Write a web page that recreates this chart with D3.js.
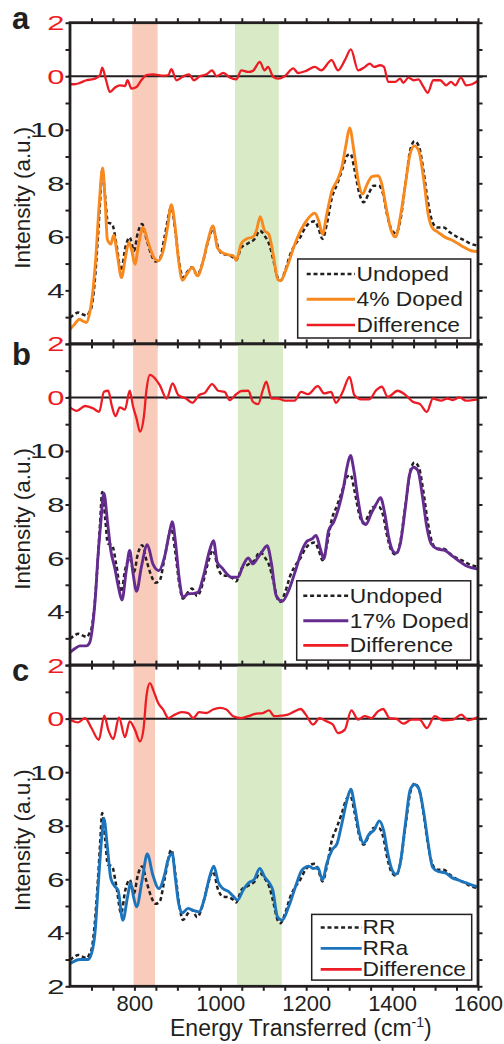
<!DOCTYPE html>
<html>
<head>
<meta charset="utf-8">
<script src="https://cdn.jsdelivr.net/npm/d3@7"></script>
<style>
  html, body { margin: 0; padding: 0; background: #fff; }
  svg { display: block; font-family: 'Liberation Sans', Arial, sans-serif; }
</style>
</head>
<body>
<div id="chart"></div>
<script>
// ---- data ----
const xTicks = d3.range(700, 1601, 50);
const xLabels = [800, 1000, 1200, 1400, 1600];
const panelLetters = ['a', 'b', 'c'];
const legendLabels = [
  ['Undoped', '4% Doped', 'Difference'],
  ['Undoped', '17% Doped', 'Difference'],
  ['RR', 'RRa', 'Difference']
];
const pinkBands = [[795, 854], [797, 854], [798, 848]];
const greenBands = [[1034, 1136], [1041, 1146], [1039, 1143]];

// reference spectrum (dashed, same in all panels)
const undoped = [[650,2.98],[660,3.1],[669,3.17],[680,3.1],[689,3.05],[696,3.22],[700,3.36],[707,4.23],[715,5.98],[720,7.3],[725,8.47],[732,7.47],[738,6.54],[748,6.48],[758,5.73],[769,4.73],[779,5.61],[789,5.98],[799,5.48],[808,6.16],[818,6.48],[828,5.92],[839,5.35],[849,5.08],[859,5.17],[870,5.98],[886,7.1],[895,6.23],[905,4.98],[913,4.48],[925,4.73],[934,4.86],[946,4.58],[960,5.1],[971,5.8],[983,6.29],[995,5.6],[1006,5.35],[1018,5.33],[1030,5.23],[1037,5.13],[1049,5.6],[1064,5.75],[1080,5.92],[1092,6.23],[1103,6.04],[1115,5.67],[1123,5.17],[1134,4.45],[1140,4.36],[1151,4.73],[1163,5.35],[1175,5.73],[1186,5.98],[1198,6.35],[1210,6.54],[1220,6.58],[1229,6.29],[1238,5.92],[1248,6.48],[1260,7.47],[1272,7.97],[1283,8.47],[1295,9.03],[1303,9.1],[1313,8.47],[1324,7.6],[1334,7.29],[1345,7.6],[1357,7.91],[1369,7.91],[1379,7.6],[1388,6.85],[1400,6.23],[1409,6.13],[1419,6.6],[1431,7.97],[1442,9.22],[1452,9.57],[1462,9.4],[1473,8.47],[1483,7.35],[1493,6.6],[1504,6.35],[1520,6.35],[1535,6.16],[1551,6.0],[1567,5.88],[1582,5.75],[1600,5.67]];

const doped4 = [[650,2.55],[660,2.72],[672,2.92],[680,2.85],[688,2.8],[695,3.1],[702,3.8],[710,5.2],[718,7.2],[726,8.57],[732,7.3],[737,5.9],[745,5.73],[752,6.06],[760,5.35],[770,4.48],[779,5.23],[787,5.79],[794,5.48],[801,4.98],[810,5.73],[820,6.35],[832,5.79],[846,5.2],[855,5.1],[867,5.48],[877,6.35],[886,7.2],[894,6.48],[902,5.23],[912,4.38],[923,4.63],[935,4.86],[947,4.54],[960,5.1],[971,5.85],[983,6.41],[993,5.6],[1004,5.42],[1018,5.33],[1030,5.29],[1037,5.13],[1049,5.75],[1061,5.92],[1076,6.0],[1084,6.23],[1093,6.75],[1103,6.23],[1113,6.1],[1123,5.35],[1134,4.4],[1140,4.36],[1155,4.86],[1175,5.79],[1198,6.54],[1220,6.88],[1229,6.6],[1238,6.1],[1248,6.85],[1260,7.72],[1272,8.1],[1283,8.6],[1293,9.47],[1301,10.07],[1311,9.22],[1321,8.1],[1331,7.6],[1342,7.97],[1353,8.25],[1367,8.28],[1376,7.97],[1386,7.1],[1398,6.23],[1408,6.0],[1419,6.73],[1431,7.97],[1442,9.1],[1452,9.4],[1462,9.22],[1474,8.1],[1484,6.85],[1493,6.35],[1508,6.16],[1524,5.98],[1539,5.88],[1555,5.73],[1569,5.6],[1584,5.48],[1600,5.45]];

const diff4 = [[650,-0.3],[660,-0.3],[673,-0.25],[688,-0.15],[700,-0.12],[708,-0.09],[720,0.04],[725,0.32],[734,-0.15],[743,-0.59],[755,-0.42],[766,-0.34],[778,-0.37],[784,-0.15],[793,-0.46],[805,-0.4],[816,-0.15],[828,0.04],[844,0.07],[867,0.02],[879,0.04],[886,0.26],[898,-0.15],[912,-0.02],[927,0.07],[939,-0.15],[952,0],[968,0.07],[981,0.22],[991,0],[1007,0.12],[1022,-0.05],[1037,-0.12],[1049,0.22],[1065,0.16],[1076,0.2],[1092,0.54],[1103,0.22],[1111,0.35],[1123,-0.02],[1134,-0.09],[1150,0],[1170,0.29],[1181,0.12],[1200,0.2],[1220,0.35],[1235,0.22],[1259,0.6],[1274,0.22],[1290,0.6],[1304,1.0],[1321,0.22],[1337,0.35],[1348,0.47],[1358,0.35],[1372,0.41],[1381,0.35],[1391,-0.21],[1407,-0.21],[1419,-0.09],[1426,-0.25],[1438,-0.05],[1450,-0.15],[1461,-0.12],[1473,-0.4],[1483,-0.62],[1496,-0.15],[1512,-0.15],[1526,-0.34],[1537,-0.21],[1547,-0.34],[1560,-0.05],[1573,-0.34],[1586,-0.3],[1600,-0.17]];

const doped17 = [[650,2.47],[660,2.6],[673,2.72],[688,2.72],[696,2.85],[703,3.5],[709,4.53],[715,6.03],[721,7.2],[729,8.42],[737,7.4],[745,6.28],[754,5.65],[763,4.9],[771,4.43],[781,5.53],[789,6.28],[797,5.4],[805,4.76],[816,5.65],[830,6.5],[843,5.78],[857,5.53],[870,6.03],[881,6.9],[888,7.36],[896,6.53],[904,5.28],[913,4.53],[925,4.66],[939,4.68],[948,4.72],[960,5.28],[975,6.28],[984,6.65],[993,5.84],[1004,5.63],[1014,5.43],[1026,5.28],[1041,5.28],[1053,5.72],[1065,6.0],[1076,5.78],[1088,6.03],[1099,6.28],[1109,6.46],[1119,5.8],[1130,4.6],[1144,4.38],[1159,4.78],[1175,5.53],[1190,6.28],[1202,6.63],[1213,6.71],[1223,6.84],[1233,6.34],[1241,5.97],[1252,7.02],[1264,7.34],[1276,7.9],[1287,8.65],[1295,9.39],[1303,9.83],[1311,9.27],[1321,8.15],[1330,7.4],[1339,7.25],[1351,7.65],[1363,8.02],[1373,8.25],[1383,7.65],[1392,6.78],[1401,6.28],[1409,6.18],[1419,6.53],[1431,7.9],[1441,9.14],[1450,9.39],[1460,9.27],[1471,8.27],[1481,7.15],[1491,6.53],[1505,6.34],[1524,6.28],[1539,6.09],[1555,5.9],[1571,5.72],[1586,5.63],[1600,5.59]];

const diff17 = [[650,-0.37],[666,-0.5],[685,-0.32],[704,-0.41],[718,-0.54],[729,0.21],[739,0.25],[747,-0.29],[756,-0.7],[766,-0.37],[778,-0.45],[789,0.25],[797,-0.35],[805,-0.79],[813,-1.28],[822,-0.72],[828,0.27],[836,0.84],[848,0.71],[859,0.46],[875,-0.04],[889,0.52],[902,0.09],[920,-0.04],[935,-0.2],[951,0.09],[964,0.17],[981,0.5],[995,0.25],[1010,0.21],[1022,-0.1],[1037,0.12],[1049,0.24],[1065,0.25],[1076,-0.16],[1088,-0.25],[1099,0.27],[1107,0.59],[1119,-0.04],[1134,-0.04],[1150,-0.12],[1173,-0.12],[1188,0.21],[1204,0.12],[1227,0.42],[1242,0.15],[1258,0.21],[1269,-0.2],[1285,0.21],[1301,0.77],[1312,0.09],[1328,-0.07],[1347,-0.07],[1363,0.27],[1376,0.4],[1390,0.02],[1413,0.25],[1429,0.12],[1448,-0.16],[1465,-0.25],[1481,-0.54],[1495,-0.04],[1514,-0.12],[1529,-0.04],[1541,-0.1],[1557,0],[1572,-0.12],[1600,-0.07]];

const rra = [[650,2.85],[673,3.0],[692,3.0],[700,3.22],[708,3.97],[716,5.84],[724,7.59],[729,8.27],[737,7.21],[745,6.03],[754,5.74],[762,5.59],[773,4.47],[784,5.34],[791,5.87],[798,5.34],[805,4.97],[818,5.97],[830,6.94],[843,6.15],[857,5.65],[870,6.15],[878,6.71],[888,6.96],[895,6.09],[903,5.09],[911,4.74],[925,4.91],[936,4.84],[950,4.78],[964,5.34],[975,6.09],[985,6.49],[995,5.9],[1006,5.65],[1020,5.53],[1030,5.37],[1040,5.22],[1053,5.59],[1066,5.87],[1078,5.97],[1092,6.4],[1103,6.09],[1115,5.84],[1122,5.6],[1133,4.6],[1144,4.47],[1159,4.97],[1175,5.72],[1190,6.34],[1206,6.49],[1217,6.4],[1227,6.44],[1238,5.97],[1248,6.59],[1260,7.09],[1272,7.34],[1283,8.08],[1295,8.96],[1304,9.36],[1313,8.71],[1324,7.71],[1334,7.34],[1345,7.65],[1359,7.86],[1370,8.18],[1380,7.84],[1390,6.96],[1400,6.34],[1409,6.18],[1419,6.59],[1431,8.08],[1442,9.33],[1452,9.54],[1462,9.39],[1474,8.46],[1484,7.34],[1494,6.46],[1508,6.28],[1524,6.24],[1539,6.06],[1555,5.97],[1571,5.87],[1586,5.78],[1600,5.72]];

const diffRR = [[650,-0.04],[669,-0.14],[685,0.02],[700,-0.35],[717,-0.79],[730,0.11],[739,-0.41],[751,-0.76],[764,0.05],[778,-0.69],[789,-0.1],[801,-0.41],[813,-0.85],[821,-0.41],[828,0.84],[836,1.33],[845,1.02],[855,0.59],[867,0.34],[879,0.02],[894,0.15],[910,0.24],[925,0.21],[937,0.02],[951,0.24],[968,0.21],[983,0.34],[999,0.4],[1014,0.34],[1030,0.09],[1049,0.02],[1065,0.09],[1084,0.19],[1099,0.21],[1113,0.31],[1126,0.09],[1142,0.11],[1157,0.15],[1173,0.27],[1187,0.36],[1199,0.15],[1216,-0.22],[1231,0.02],[1247,-0.1],[1262,-0.22],[1274,-0.54],[1290,-0.41],[1305,0.31],[1321,-0.04],[1336,0.09],[1352,0.02],[1367,0.27],[1379,0.36],[1394,0.02],[1410,-0.01],[1426,-0.19],[1445,-0.04],[1464,-0.04],[1481,-0.35],[1499,0.09],[1519,-0.06],[1542,-0.04],[1561,0.15],[1577,-0.06],[1600,0.06]];

const samples = [doped4, doped17, rra];
const diffs = [diff4, diff17, diffRR];

// ---- layout ----
const width = 504, height = 1044;
const left = 70, right = 478;
const panelTops = [22.7, 343.9, 665.1];
const panelH = 321.2;
const sampleColors = ['#f7891f', '#652c90', '#1c75bc'];
const red = '#ed1c24', ink = '#231f20';
const pink = '#f9cbbb', green = '#d9ebc6';
const dash = '4,2.8';
const legendBoxes = [
  {x0: 297.7, x1: 470.7, y0: 236.3, y1: 315.3, rows: [251.3, 276.6, 302.3], l0: 306.7, l1: 355, tx: 356.5},
  {x0: 296.7, x1: 470.7, y0: 236.9, y1: 316.2, rows: [251.9, 276.9, 301.4], l0: 303.3, l1: 348.3, tx: 349.8},
  {x0: 311.7, x1: 471.7, y0: 249.3, y1: 315.0, rows: [262.3, 283.3, 304.3], l0: 320.7, l1: 361.7, tx: 362.5}
];
const labelScale = 1.55;   // y tick digits are drawn wide in the figure
const legendScale = 1.14;

const svg = d3.select('#chart').append('svg')
  .attr('width', width)
  .attr('height', height);

const x = d3.scaleLinear().domain([650, 1600]).range([left, right]);

panelTops.forEach((top, i) => {
  const bottom = top + panelH;
  const y = d3.scaleLinear().domain([2, 14]).range([bottom, top]);
  const yDiff = d3.scaleLinear().domain([-10, 2]).range([bottom, top]);
  const g = svg.append('g');

  // shaded regions
  [[pinkBands[i], pink], [greenBands[i], green]].forEach(([b, c]) => {
    g.append('rect')
      .attr('x', x(b[0])).attr('width', x(b[1]) - x(b[0]))
      .attr('y', top).attr('height', panelH)
      .attr('fill', c);
  });

  // zero line of the difference trace
  g.append('line')
    .attr('x1', left - 2).attr('x2', right + 9)
    .attr('y1', yDiff(0)).attr('y2', yDiff(0))
    .attr('stroke', ink).attr('stroke-width', 2);

  const line = sc => d3.line()
    .x(d => x(d[0]))
    .y(d => sc(d[1]))
    .curve(d3.curveMonotoneX);

  g.append('path').datum(diffs[i])
    .attr('fill', 'none').attr('stroke', red).attr('stroke-width', 2.3)
    .attr('stroke-linejoin', 'round')
    .attr('d', line(yDiff));

  g.append('path').datum(undoped)
    .attr('fill', 'none').attr('stroke', ink).attr('stroke-width', 2.5)
    .attr('stroke-dasharray', dash)
    .attr('d', line(y));

  g.append('path').datum(samples[i])
    .attr('fill', 'none').attr('stroke', sampleColors[i]).attr('stroke-width', 2.9)
    .attr('stroke-linejoin', 'round')
    .attr('d', line(y));

  // tick marks on all four sides
  const tickY = d3.range(2, 15);
  const axes = [
    [d3.axisLeft(y).tickValues(tickY), `translate(${left},0)`],
    [d3.axisRight(y).tickValues(tickY), `translate(${right},0)`],
    [d3.axisTop(x).tickValues(xTicks), `translate(0,${top})`],
    [d3.axisBottom(x).tickValues(xTicks), `translate(0,${bottom})`]
  ];
  axes.forEach(([ax, tr]) => {
    g.append('g')
      .attr('transform', tr)
      .call(ax.tickSize(4.5).tickFormat(''))
      .call(a => a.select('.domain').remove())
      .call(a => a.selectAll('.tick line').attr('stroke', ink).attr('stroke-width', 2));
  });

  // frame
  g.append('rect')
    .attr('x', left).attr('y', top)
    .attr('width', right - left).attr('height', panelH)
    .attr('fill', 'none').attr('stroke', ink).attr('stroke-width', 2.8);

  // y tick labels: black intensity, red difference
  const labelAxis = (scale, vals, color) => {
    g.append('g')
      .attr('transform', `translate(${left},0)`)
      .call(d3.axisLeft(scale).tickValues(vals).tickSize(0).tickFormat(d3.format('d')))
      .call(a => a.select('.domain').remove())
      .call(a => a.selectAll('text')
        .attr('font-family', null)
        .attr('font-size', 20)
        .attr('fill', color)
        .attr('x', -5.5 / labelScale)
        .attr('dy', '0.35em')
        .attr('transform', `scale(${labelScale},1)`));
  };
  labelAxis(y, i === panelTops.length - 1 ? [2, 4, 6, 8, 10] : [4, 6, 8, 10], ink);
  labelAxis(yDiff, [0, 2], red);

  // axis title
  g.append('text')
    .attr('transform', `translate(29.5,${top + 175}) rotate(-90)`)
    .attr('text-anchor', 'middle')
    .attr('font-size', 22.4)
    .attr('fill', ink)
    .text('Intensity (a.u.)');

  // panel letter
  g.append('text')
    .attr('x', 12).attr('y', [28.5, 365, 681][i])
    .attr('font-size', 31).attr('font-weight', 'bold')
    .attr('fill', ink)
    .text(panelLetters[i]);

  // legend
  const lb = legendBoxes[i];
  const lg = g.append('g').attr('transform', `translate(0,${top})`);
  lg.append('rect')
    .attr('x', lb.x0).attr('y', lb.y0)
    .attr('width', lb.x1 - lb.x0).attr('height', lb.y1 - lb.y0)
    .attr('fill', '#fff').attr('stroke', ink).attr('stroke-width', 1.5);
  const styles = [
    {c: ink, w: 2.5, dash: dash},
    {c: sampleColors[i], w: 2.9, dash: null},
    {c: red, w: 2.7, dash: null}
  ];
  legendLabels[i].forEach((lab, k) => {
    const ry = lb.rows[k];
    lg.append('line')
      .attr('x1', lb.l0).attr('x2', lb.l1)
      .attr('y1', ry).attr('y2', ry)
      .attr('stroke', styles[k].c).attr('stroke-width', styles[k].w)
      .attr('stroke-dasharray', styles[k].dash);
    lg.append('text')
      .attr('transform', `translate(${lb.tx},${ry + 7}) scale(${legendScale},1)`)
      .attr('font-size', 20)
      .attr('fill', ink)
      .text(lab);
  });

  // x tick labels on the bottom panel
  if (i === panelTops.length - 1) {
    g.append('g')
      .attr('transform', `translate(0,${bottom})`)
      .call(d3.axisBottom(x).tickValues(xLabels).tickSize(0).tickPadding(9).tickFormat(d3.format('d')))
      .call(a => a.select('.domain').remove())
      .call(a => a.selectAll('text')
        .attr('font-family', null)
        .attr('font-size', 22)
        .attr('fill', ink));

    const t = g.append('text')
      .attr('x', 170).attr('y', 1036)
      .attr('font-size', 23)
      .attr('fill', ink);
    t.append('tspan').text('Energy Transferred (cm');
    t.append('tspan').attr('font-size', 14).attr('dy', -9).text('-1');
    t.append('tspan').attr('dy', 9).text(')');
  }
});
</script>
</body>
</html>
